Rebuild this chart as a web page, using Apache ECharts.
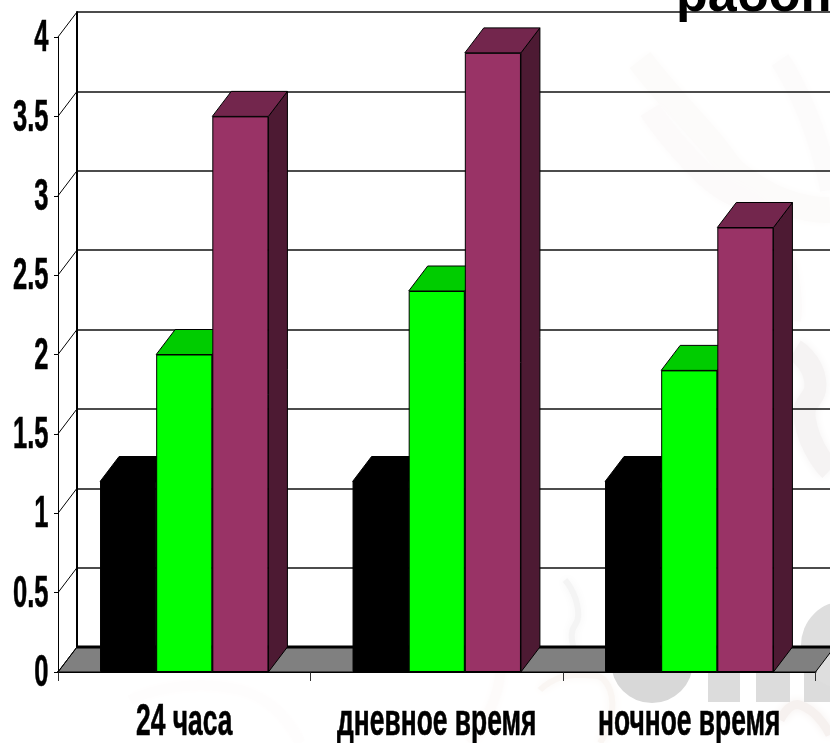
<!DOCTYPE html>
<html>
<head>
<meta charset="utf-8">
<style>html,body{margin:0;padding:0;background:#fff}#chart{width:830px;height:743px}</style>
<script src="https://cdn.jsdelivr.net/npm/echarts@6/dist/echarts.min.js"></script>
</head>
<body>
<div id="chart"></div>
<script>
// Category names and the value ticks
const categories = ['24 часа', 'дневное время', 'ночное время'];
const valueTicks = [0, 0.5, 1, 1.5, 2, 2.5, 3, 3.5, 4];
const headingText = 'рабоп';

// Bar heights per group
const blackValues = [1.2, 1.2, 1.2];
const greenValues = [2.0, 2.4, 1.9];
const plumValues = [3.5, 3.9, 2.8];

// Oblique depth of the pseudo-3D box
const DX = 19, DY = -25;
const LABEL_FONT = 'bold 44px "Liberation Sans", Arial, sans-serif';

const chart = echarts.init(document.getElementById('chart'), null, {renderer: 'canvas'});

// Top and side faces of one bar series, drawn under the front faces
function depthSeries(values, topColor, sideColor, seriesPos) {
  return {
    type: 'custom', xAxisIndex: 0, yAxisIndex: 0, z: 3, silent: true,
    data: values.map((v, i) => [i, v]),
    renderItem(params, api) {
      const band = api.size([1, 0])[0];
      const w = band * 2 / 9;
      const c = api.coord([api.value(0), api.value(1)]);
      const base = api.coord([api.value(0), 0]);
      const x0 = c[0] - 1.5 * w + seriesPos * w, x1 = x0 + w, y = c[1];
      const style = {lineWidth: 1, stroke: '#000'};
      return {type: 'group', children: [
        {type: 'polygon', shape: {points: [[x1, y], [x1 + DX, y + DY], [x1 + DX, base[1] + DY], [x1, base[1]]]},
          style: Object.assign({fill: sideColor}, style)},
        {type: 'polygon', shape: {points: [[x0, y], [x0 + DX, y + DY], [x1 + DX, y + DY], [x1, y]]},
          style: Object.assign({fill: topColor}, style)}
      ]};
    }
  };
}

function barSeries(name, values, color) {
  return {
    name, type: 'bar', xAxisIndex: 0, yAxisIndex: 0, z: 4, data: values,
    barGap: 0, barCategoryGap: '33.3%', silent: true,
    itemStyle: {color, borderColor: '#000', borderWidth: 1}
  };
}

// Grey floor, its rear edge and the oblique lines joining front ticks to the wall
const floorSeries = {
  type: 'custom', xAxisIndex: 0, yAxisIndex: 0, z: 1, silent: true,
  data: valueTicks.map(v => [0, v]),
  renderItem(params, api) {
    const cs = params.coordSys;
    const v = api.value(1);
    const y = api.coord([0, v])[1];
    const line = {stroke: '#000', lineWidth: 1};
    const kids = [{type: 'line', shape: {x1: cs.x, y1: y, x2: cs.x + DX, y2: y + DY}, style: line}];
    if (v === 0) {
      const r = cs.x + cs.width;
      kids.unshift(
        {type: 'polygon', shape: {points: [[cs.x, y], [cs.x + DX, y + DY], [r + DX, y + DY], [r, y]]},
          style: {fill: '#808080', stroke: '#000', lineWidth: 1}},
        {type: 'line', shape: {x1: cs.x + DX, y1: y + DY, x2: r + DX, y2: y + DY}, style: {stroke: '#000', lineWidth: 3}}
      );
    }
    return {type: 'group', children: kids};
  }
};

// Value labels, tall and condensed
const valueLabelSeries = {
  type: 'custom', xAxisIndex: 0, yAxisIndex: 0, z: 6, silent: true,
  data: valueTicks.map(v => [0, v]),
  renderItem(params, api) {
    const v = api.value(1);
    return {type: 'text', x: params.coordSys.x - 9.5, y: api.coord([0, v])[1] + 2, scaleX: 0.58,
      style: {text: String(v), font: LABEL_FONT, fill: '#000', stroke: '#000', lineWidth: 0.6, textAlign: 'right', textVerticalAlign: 'middle'}};
  }
};

// Category labels under the floor
const categoryLabelSeries = {
  type: 'custom', xAxisIndex: 0, yAxisIndex: 0, z: 6, silent: true,
  data: categories.map((c, i) => [i, 0]),
  renderItem(params, api) {
    const p = api.coord([api.value(0), 0]);
    return {type: 'text', x: p[0], y: p[1] + 51, scaleX: 0.6,
      style: {text: categories[params.dataIndex], font: LABEL_FONT, fill: '#000', stroke: '#000', lineWidth: 0.6, textAlign: 'center', textVerticalAlign: 'middle'}};
  }
};

// Washed-out backdrop shapes behind the plot
const softStroke = (points, width, color) => ({
  type: 'polyline', z: -10, silent: true, shape: {points, smooth: 0.6},
  style: {stroke: color, lineWidth: width, fill: 'none', shadowBlur: 10, shadowColor: color}
});
const backdrop = [
  {type: 'circle', z: -9, silent: true, shape: {cx: 652, cy: 662, r: 41}, style: {fill: '#d8d8d8'}},
  {type: 'rect', z: -9, silent: true, shape: {x: 708, y: 610, width: 32, height: 92}, style: {fill: '#dcdcdc'}},
  {type: 'rect', z: -9, silent: true, shape: {x: 756, y: 610, width: 34, height: 92}, style: {fill: '#dcdcdc'}},
  {type: 'rect', z: -9, silent: true, shape: {x: 804, y: 640, width: 30, height: 62}, style: {fill: '#dcdcdc'}},
  {type: 'circle', z: -9, silent: true, shape: {cx: 845, cy: 645, r: 44}, style: {fill: '#dedede'}},
  softStroke([[640, 60], [700, 130], [760, 190], [830, 210]], 26, '#fcfbfa'),
  softStroke([[650, 110], [700, 170], [770, 230], [790, 320]], 22, '#fcfafa'),
  softStroke([[780, 60], [810, 120], [830, 190]], 20, '#fcfbfb'),
  softStroke([[795, 350], [815, 380], [805, 420], [830, 470]], 22, '#f5f3f3'),
  softStroke([[565, 580], [578, 610], [572, 640], [585, 668]], 6, '#f4f4f4'),
  softStroke([[540, 690], [575, 675], [610, 690], [600, 743]], 6, '#faf6f3'),
  softStroke([[780, 720], [800, 705], [830, 735]], 9, '#f6f1ef'),
  softStroke([[450, 600], [500, 650], [470, 743]], 10, '#fdfbfa'),
  softStroke([[130, 700], [240, 690], [300, 743]], 10, '#fefdfd')
];

chart.setOption({
  animation: false,
  backgroundColor: '#fff',
  title: {
    text: headingText, left: 671, top: -34,
    textStyle: {fontFamily: '"Liberation Sans", Arial, sans-serif', fontWeight: 'bold', fontSize: 52, color: '#000'}
  },
  graphic: {elements: backdrop},
  grid: [
    {left: 58, top: 37, width: 757.5, height: 635},   // front plane, carries the bars
    {left: 77, top: 12, width: 770, height: 635}      // rear wall, shifted by the depth
  ],
  xAxis: [
    {type: 'category', gridIndex: 0, data: categories,
      axisLine: {lineStyle: {color: '#000', width: 2}},
      axisTick: {show: true, alignWithLabel: false, length: 9, lineStyle: {color: '#333', width: 1}},
      axisLabel: {show: false}},
    {type: 'category', gridIndex: 1, data: categories, show: false}
  ],
  yAxis: [
    {type: 'value', gridIndex: 0, min: 0, max: 4, interval: 0.5,
      axisLine: {show: true, lineStyle: {color: '#000', width: 1}},
      axisTick: {show: true, length: 4, lineStyle: {color: '#000'}},
      axisLabel: {show: false}, splitLine: {show: false}},
    {type: 'value', gridIndex: 1, min: 0, max: 4, interval: 0.5,
      axisLine: {show: true, lineStyle: {color: '#000', width: 2}},
      axisTick: {show: false}, axisLabel: {show: false},
      splitLine: {show: true, lineStyle: {color: '#111', width: 1.5}}}
  ],
  series: [
    floorSeries,
    depthSeries(blackValues, '#000', '#000', 0),
    depthSeries(greenValues, '#00cc00', '#008000', 1),
    depthSeries(plumValues, '#73264d', '#4d1a33', 2),
    barSeries('черный', blackValues, '#000'),
    barSeries('зеленый', greenValues, '#00ff00'),
    barSeries('сливовый', plumValues, '#993366'),
    valueLabelSeries,
    categoryLabelSeries
  ]
});
</script>
</body>
</html>
